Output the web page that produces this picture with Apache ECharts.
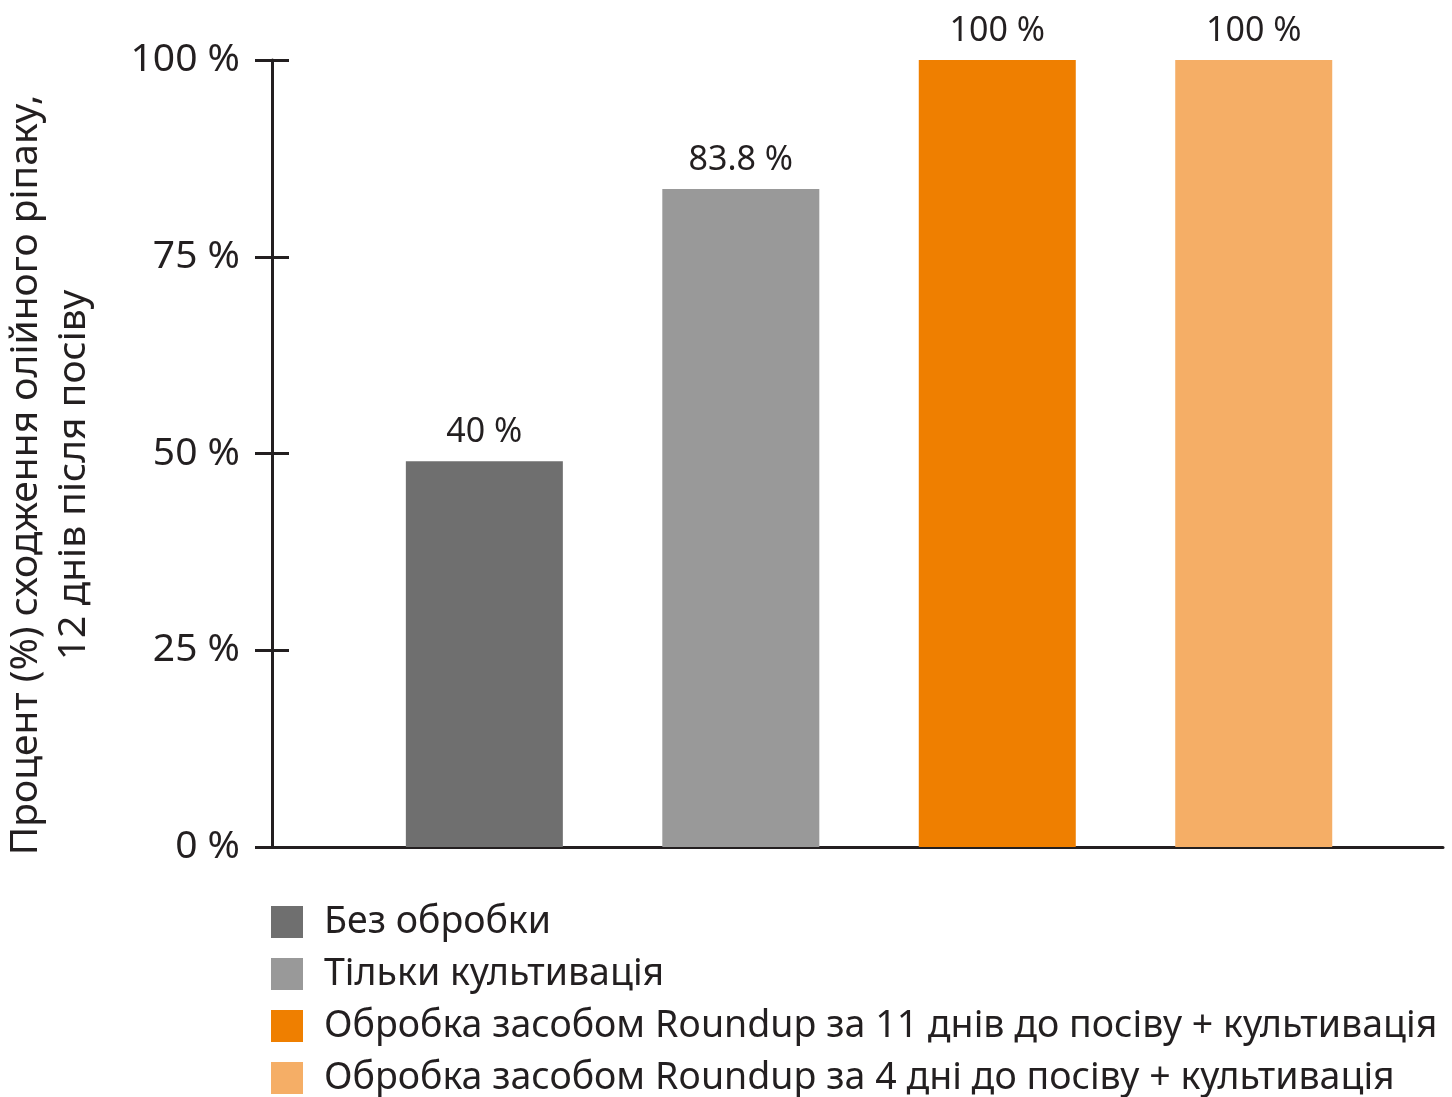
<!DOCTYPE html>
<html><head><meta charset="utf-8">
<script src="https://cdn.jsdelivr.net/npm/echarts@6/dist/echarts.min.js"></script>
<style>html,body{margin:0;padding:0;background:#fff}#c{width:1452px;height:1097px}</style>
</head><body><div id="c"></div>
<script>
const categories = ['Без обробки', 'Тільки культивація', 'Обробка засобом Roundup за 11 днів до посіву + культивація', 'Обробка засобом Roundup за 4 дні до посіву + культивація'];
const positions = [1, 2, 3, 4];
const values = [49, 83.6, 100, 100];
const valueLabels = ['40 %', '83.8 %', '100 %', '100 %'];
const colors = ['#6f6f6f', '#999999', '#ef7f00', '#f5ae66'];
const yTitle = 'Процент (%) сходження олійного ріпаку,\n12 днів після посіву';

const FONT = '"Noto Sans", sans-serif';
const TXT = '#231f20';

const series = categories.map((name, i) => ({
  name: name,
  type: 'bar',
  barWidth: 157,
  barGap: '-100%',
  itemStyle: { color: colors[i] },
  label: {
    show: true, position: 'top', distance: 12,
    formatter: () => valueLabels[i],
    fontFamily: FONT, fontSize: 34, color: TXT
  },
  data: [[positions[i], values[i]]]
}));

const chart = echarts.init(document.getElementById('c'), null, { renderer: 'canvas' });
chart.setOption({
  backgroundColor: '#fff',
  animation: false,
  grid: { left: 272, right: 9, top: 60, bottom: 250, containLabel: false, outerBoundsMode: 'none' },
  xAxis: {
    type: 'value', min: 0.172, max: 4.738,
    axisLine: { show: true, onZero: false, lineStyle: { color: '#231f20', width: 3 } },
    axisTick: { show: false }, axisLabel: { show: false }, splitLine: { show: false }
  },
  yAxis: [{
    type: 'value', position: 'left', min: 0, max: 100, interval: 25,
    axisLine: { show: true, lineStyle: { color: '#231f20', width: 3 } },
    axisTick: { show: true, length: 17, lineStyle: { color: '#231f20', width: 3 } },
    axisLabel: { margin: 32, fontFamily: FONT, fontSize: 39, color: TXT, formatter: '{value} %' },
    splitLine: { show: false },
    name: yTitle, nameLocation: 'middle', nameRotate: 90, nameGap: 174,
    nameTextStyle: { fontFamily: FONT, fontSize: 39, color: TXT, lineHeight: 48, align: 'center', padding: [0, 43, 0, 0] }
  }, {
    type: 'value', position: 'left', min: 0, max: 100, interval: 25,
    axisLine: { show: false },
    axisTick: { show: true, inside: true, length: 17, lineStyle: { color: '#231f20', width: 3 } },
    axisLabel: { show: false }, splitLine: { show: false }
  }],
  legend: {
    orient: 'vertical', left: 271, top: 903, height: 260, padding: 0,
    itemWidth: 32, itemHeight: 32, itemGap: 14,
    icon: 'rect',
    textStyle: { fontFamily: FONT, fontSize: 37.5, color: TXT, padding: [0, 0, 0, 16] },
    data: categories
  },
  series: series
});
</script></body></html>
